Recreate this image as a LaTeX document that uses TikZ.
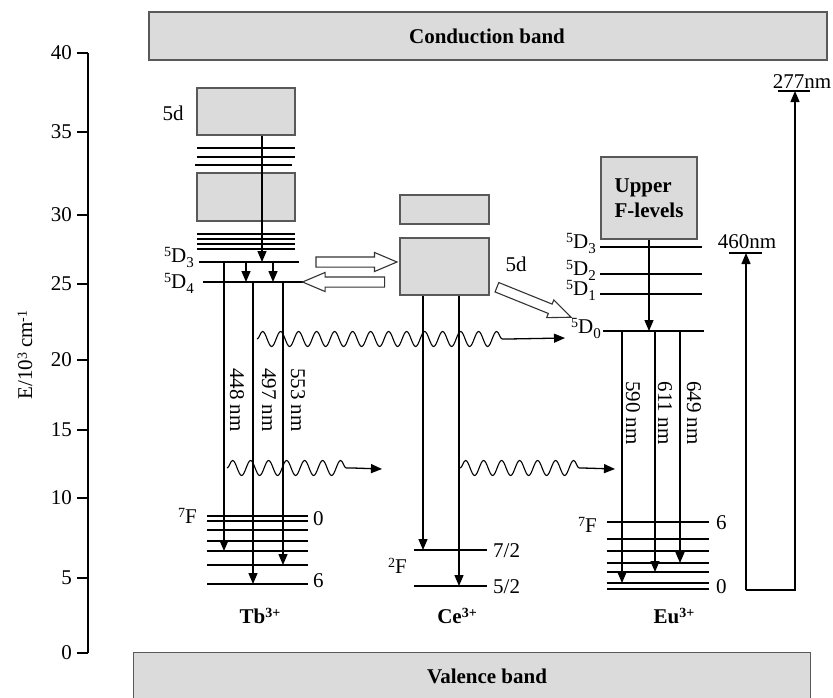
\documentclass[tikz,border=0pt]{standalone}
\usepackage{fontspec}
\setmainfont{Liberation Serif}
\usetikzlibrary{arrows.meta,decorations.pathmorphing,shapes.arrows}
\newcommand{\up}[1]{\raisebox{0.55ex}{\fontsize{14}{14}\selectfont #1}}
\newcommand{\dn}[1]{\raisebox{-0.6ex}{\fontsize{15}{15}\selectfont #1}}
\begin{document}
\begin{tikzpicture}[x=1pt,y=-1pt,
  font=\fontsize{21}{24}\selectfont,
  band/.style={draw=black!65, fill=black!14, line width=1.4pt, inner sep=0pt},
  lvl/.style={line width=1.3pt},
  arr/.style={line width=1.3pt, -{Triangle[length=11pt,width=9pt]}},
  wavy/.style={line width=1.1pt, decorate, decoration={snake, segment length=18pt, amplitude=7.5pt}},
  openarr/.style={single arrow, draw=black!80, line width=1.1pt, fill=white, minimum width=18pt, single arrow head extend=4.5pt, single arrow tip angle=46, inner xsep=0pt, inner ysep=4.5pt},
  lab/.style={inner sep=0pt},
  vlab/.style={inner sep=0pt, rotate=-90},
  bold/.style={font=\fontsize{21}{25}\selectfont\bfseries},
]
\clip (0,0) rectangle (833,697);

% bands
\node[band, minimum width=678pt, minimum height=48pt] (cb) at (488,36) {};
\node[lab, bold] (cbl) at (487,36) {Conduction band};
\node[band, minimum width=677pt, minimum height=70pt, anchor=north west] (vb) at (133,652) {};
\node[lab, bold] (vbl) at (487,676) {Valence band};

% axis
\draw[line width=2.2pt] (88,53) -- (88,653);
\foreach \v/\yy in {40/53,35/132,30/215,25/284,20/360,15/430,10/498,5/578,0/653} {
  \draw[line width=2.2pt] (77,\yy) -- (88,\yy);
  \node[lab, anchor=east] (tick\v) at (72,\yy) {\v};
}
\node[lab, rotate=90] (ylab) at (25,355) {E/10\up{3} cm\up{-1}};

% ---------------- Tb ----------------
\node[band, minimum width=98pt, minimum height=47pt] (tb5d) at (246,111.5) {};
\node[band, minimum width=98pt, minimum height=48pt] (tbbox) at (246,197) {};
\node[lab, anchor=base] (tb5dl) at (173,120) {5d};
\foreach \yy in {148,157} \draw[lvl] (197,\yy) -- (295,\yy);
\draw[lvl] (195,165) -- (292,165);
\foreach \yy in {234,239,244,249} \draw[lvl] (197,\yy) -- (295,\yy);
\draw[lvl] (199,262) -- (299,262);
\draw[lvl] (203,282) -- (303,282);
\node[lab, anchor=base east] (tbD3l) at (194,262) {\up{5}D\dn{3}};
\node[lab, anchor=base east] (tbD4l) at (194,288) {\up{5}D\dn{4}};
\foreach \yy in {516,521,530,541,551,565,584} \draw[lvl] (207,\yy) -- (308,\yy);
\node[lab, anchor=base east] (tb7F) at (197,523) {\up{7}F};
\node[lab, anchor=base west] (tb0) at (313,525) {0};
\node[lab, anchor=base west] (tb6) at (313,587) {6};
\node[lab, bold, anchor=base] (tbion) at (260,623) {Tb\up{3+}};

\coordinate (tbD3c) at (262,262);
\coordinate (tbA1) at (246,262); \coordinate (tbA2) at (246,282);
\coordinate (tbB1) at (273,262); \coordinate (tbB2) at (273,282);
\coordinate (tb448s) at (224,262); \coordinate (tb448e) at (224,551);
\coordinate (tb497s) at (253,282); \coordinate (tb497e) at (253,584);
\coordinate (tb553s) at (283,282); \coordinate (tb553e) at (283,565);
\draw[arr] (tb5d.south -| tbD3c) -- (tbD3c);
\draw[arr] (tbA1) -- (tbA2);
\draw[arr] (tbB1) -- (tbB2);
\draw[arr] (tb448s) -- (tb448e);
\draw[arr] (tb497s) -- (tb497e);
\draw[arr] (tb553s) -- (tb553e);
\node[vlab] (l448) at (237,400) {448 nm};
\node[vlab] (l497) at (269,400) {497 nm};
\node[vlab] (l553) at (298,400) {553 nm};

% ---------------- Ce ----------------
\node[band, minimum width=89pt, minimum height=29pt] (cetop) at (444.5,209.5) {};
\node[band, minimum width=89pt, minimum height=57pt] (ce5d) at (444.5,266.5) {};
\node[lab, anchor=base] (ce5dl) at (516,271) {5d};
\draw[lvl] (414,550) -- (487,550);
\draw[lvl] (414,586) -- (487,586);
\node[lab, anchor=base east] (ce2F) at (407,573) {\up{2}F};
\node[lab, anchor=base west] (ce72) at (493,557) {7/2};
\node[lab, anchor=base west] (ce52) at (493,593) {5/2};
\node[lab, bold, anchor=base] (ceion) at (457,623) {Ce\up{3+}};
\coordinate (ceA) at (423,550);
\coordinate (ceB) at (459,586);
\draw[arr] (ce5d.south -| ceA) -- (ceA);
\draw[arr] (ce5d.south -| ceB) -- (ceB);

% ---------------- Eu ----------------
\node[band, minimum width=96pt, minimum height=82pt, align=left, bold] (eubox) at (649,198) {Upper\\F-levels};
\draw[lvl] (600,247) -- (702,247);
\draw[lvl] (600,274) -- (702,274);
\draw[lvl] (600,294) -- (702,294);
\draw[lvl] (603,331) -- (704,331);
\node[lab, anchor=base east] (euD3) at (596,248) {\up{5}D\dn{3}};
\node[lab, anchor=base east] (euD2) at (596,275) {\up{5}D\dn{2}};
\node[lab, anchor=base east] (euD1) at (596,295) {\up{5}D\dn{1}};
\node[lab, anchor=base east] (euD0) at (601,333) {\up{5}D\dn{0}};
\foreach \yy in {522,539,551,563,572,583,589} \draw[lvl] (607,\yy) -- (709,\yy);
\node[lab, anchor=base east] (eu7F) at (597,532) {\up{7}F};
\node[lab, anchor=base west] (eu6) at (716,529) {6};
\node[lab, anchor=base west] (eu0) at (716,593) {0};
\node[lab, bold, anchor=base] (euion) at (674,623) {Eu\up{3+}};
\coordinate (euD0c) at (649,331);
\coordinate (eu590s) at (622,331); \coordinate (eu590e) at (622,583);
\coordinate (eu611s) at (655,331); \coordinate (eu611e) at (655,572);
\coordinate (eu649s) at (680,331); \coordinate (eu649e) at (680,563);
\draw[arr] (eubox.south -| euD0c) -- (euD0c);
\draw[arr] (eu590s) -- (eu590e);
\draw[arr] (eu611s) -- (eu611e);
\draw[arr] (eu649s) -- (eu649e);
\node[vlab] (l590) at (633,413) {590 nm};
\node[vlab] (l611) at (665,413) {611 nm};
\node[vlab] (l649) at (694,413) {649 nm};

% excitation
\coordinate (rb1) at (746,590);
\coordinate (rb2) at (795,590);
\coordinate (t460) at (746,253);
\coordinate (t277) at (795,91);
\draw[lvl] (729,253) -- (762,253);
\draw[lvl] (778,91) -- (810,91);
\draw[arr] (rb1) -- (t460);
\draw[arr, line join=miter] (rb1) -- (rb2) -- (t277);
\node[lab, anchor=base] (l460) at (747,248) {460nm};
\node[lab, anchor=base] (l277) at (802,88) {277nm};

% energy transfer (wavy)
\coordinate (w1s) at (257,339); \coordinate (w1e) at (508,339); \coordinate (w1t) at (565,338);
\coordinate (w2s) at (227,468); \coordinate (w2e) at (353,468); \coordinate (w2t) at (382,469);
\coordinate (w3s) at (460,468); \coordinate (w3e) at (583,468); \coordinate (w3t) at (615,469);
\draw[wavy] (w1s) -- (w1e); \draw[arr] (w1e) -- (w1t);
\draw[wavy] (w2s) -- (w2e); \draw[arr] (w2e) -- (w2t);
\draw[wavy] (w3s) -- (w3e); \draw[arr] (w3e) -- (w3t);

% open arrows
\node[openarr, minimum height=81pt] (oa1) at (350.5,262) {};
\node[openarr, minimum height=82pt, shape border rotate=180] (oa2) at (349.5,282) {};
\node[openarr, minimum height=80pt, rotate=-22] (oa3) at (528.5,300) {};
\end{tikzpicture}
\end{document}
